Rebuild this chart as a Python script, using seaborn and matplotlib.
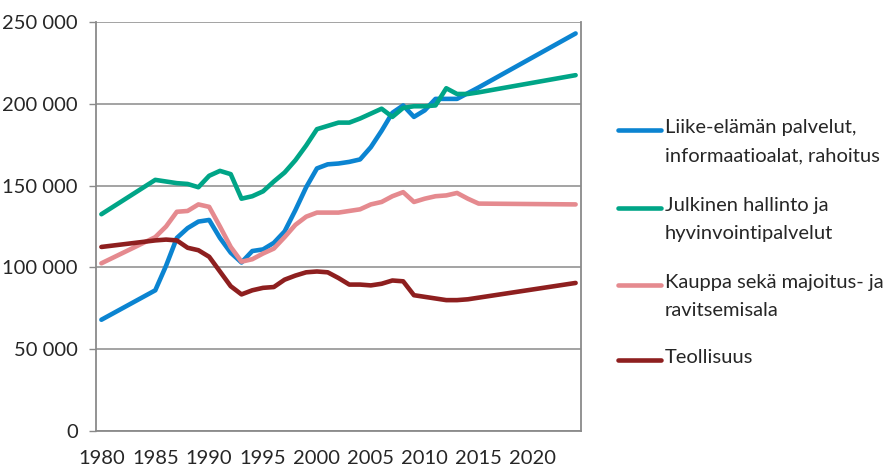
import matplotlib
matplotlib.use("Agg")
import matplotlib.pyplot as plt
from matplotlib.lines import Line2D
from matplotlib.ticker import FuncFormatter, FixedLocator
import pandas as pd
import seaborn as sns

# years with data (gaps 1981-84 and 2016-23 are joined by straight lines)
years = [1980, 1985, 1986, 1987, 1988, 1989, 1990, 1991, 1992, 1993, 1994,
         1995, 1996, 1997, 1998, 1999, 2000, 2001, 2002, 2003, 2004, 2005,
         2006, 2007, 2008, 2009, 2010, 2011, 2012, 2013, 2014, 2015, 2024]

# thousands of persons
liike = [68, 86, 101, 118, 124, 128, 129, 118, 109, 103, 110,
         111, 115, 122, 135, 149, 160.5, 163, 163.5, 164.5, 166, 173.5,
         183.5, 194.5, 199, 192, 196, 203, 203, 203, 206.5, 210, 243]
julkinen = [132.5, 153.5, 152.5, 151.5, 151, 149, 156, 159, 157, 142, 143.5,
            146.5, 152.5, 158, 165.5, 174.5, 184.5, 186.5, 188.5, 188.5, 191, 194,
            197, 192, 197.5, 198.5, 198.5, 199, 209.5, 206, 206, 207, 217.5]
kauppa = [102.5, 118.5, 125, 134, 134.5, 138.5, 137, 125, 112.5, 103.5, 105,
          108.5, 111.5, 118.5, 126, 131, 133.5, 133.5, 133.5, 134.5, 135.5, 138.5,
          140, 143.5, 146, 140, 142, 143.5, 144, 145.5, 142, 139, 138.5]
teollisuus = [112.5, 116.5, 117, 116.5, 112, 110.5, 106.5, 97.5, 88.5, 83.5, 86,
              87.5, 88, 92.5, 95, 97, 97.5, 97, 93.5, 89.5, 89.5, 89,
              90, 92, 91.5, 83, 82, 81, 80, 80, 80.5, 81.5, 90.5]

labels = ["Liike-elämän palvelut,\ninformaatioalat, rahoitus",
          "Julkinen hallinto ja\nhyvinvointipalvelut",
          "Kauppa sekä majoitus- ja\nravitsemisala",
          "Teollisuus"]
colors = ["#0B84D1", "#00A587", "#E58A8F", "#8E1F1F"]
year_labels = [1980, 1985, 1990, 1995, 2000, 2005, 2010, 2015, 2020]

rows = []
for lab, vals in zip(labels, [liike, julkinen, kauppa, teollisuus]):
    for y, v in zip(years, vals):
        rows.append({"vuosi": y, "arvo": v * 1000, "sarja": lab})
df = pd.DataFrame(rows)

sns.set_style("white")
plt.rcParams["font.family"] = ["Lato", "DejaVu Sans"]

fig = plt.figure(figsize=(8.9, 4.68), dpi=100)
ax = fig.add_axes([96 / 890, 37 / 468, 485 / 890, 409 / 468])

grey = "#8A8A8A"
sns.lineplot(data=df, x="vuosi", y="arvo", hue="sarja", hue_order=labels,
             palette=dict(zip(labels, colors)), linewidth=3.3, legend=False,
             ax=ax, zorder=3)

ax.set_xlim(1979.5, 2024.5)
ax.set_ylim(0, 250000)
ax.set_xlabel("")
ax.set_ylabel("")

ax.yaxis.set_major_locator(FixedLocator(range(0, 250001, 50000)))
ax.yaxis.set_major_formatter(FuncFormatter(lambda v, p: f"{int(v):,}".replace(",", " ")))
ax.grid(axis="y", color=grey, linewidth=1.1, zorder=0)
ax.xaxis.set_major_locator(FixedLocator(year_labels))
ax.xaxis.set_minor_locator(FixedLocator([1979.5 + k for k in range(46)]))
ax.tick_params(axis="x", which="major", length=0, pad=14, labelsize=14.5)
ax.tick_params(axis="x", which="minor", length=4, width=1, color=grey, direction="out")
ax.tick_params(axis="y", which="major", length=5, width=1, color=grey, pad=8,
               labelsize=14.5, left=True)

for side in ["left", "bottom", "right"]:
    ax.spines[side].set_color(grey)
    ax.spines[side].set_linewidth(1.3)
ax.spines["top"].set_visible(False)

# legend drawn beside the plot, handle on the first text line
entry_y = [130, 208, 285, 360]
for lab, col, yy in zip(labels, colors, entry_y):
    yf = 1 - yy / 468
    fig.add_artist(Line2D([618 / 890, 661 / 890], [yf, yf], color=col,
                          linewidth=3.3, transform=fig.transFigure))
    fig.text(665 / 890, 1 - (yy - 11) / 468, lab, fontsize=14.5, va="top",
             ha="left", linespacing=1.8)

fig.savefig("out.png", dpi=100)
